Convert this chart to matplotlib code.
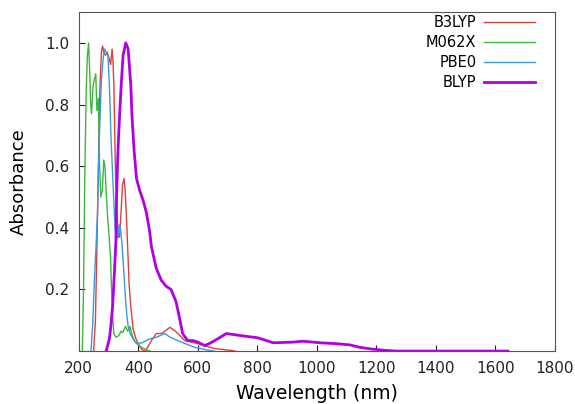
import numpy as np
import matplotlib.pyplot as plt

# Spectra (wavelength in nm, normalised absorbance)
b3lyp_x = [250, 256, 261, 266, 271, 276, 280, 284, 290, 296, 302, 307, 312, 315, 318, 321,
           324, 328, 333, 337, 342, 347, 352, 356, 360, 365, 369, 375, 383, 392, 402, 412,
           422, 430, 444, 461, 478, 490, 506, 523, 540, 556, 600, 657, 713, 725]
b3lyp_y = [0.0, 0.10, 0.34, 0.60, 0.85, 0.97, 0.99, 0.97, 0.96, 0.97, 0.95, 0.93, 0.98, 0.94, 0.86, 0.70,
           0.55, 0.45, 0.37, 0.37, 0.45, 0.54, 0.56, 0.52, 0.44, 0.32, 0.22, 0.14, 0.07, 0.04, 0.02, 0.005,
           0.0, 0.01, 0.034, 0.057, 0.057, 0.065, 0.077, 0.066, 0.05, 0.034, 0.024, 0.008, 0.002, 0.0]

m062x_x = [212, 216, 220, 225, 229, 233, 237, 240, 243, 248, 252, 257, 261, 266, 270, 274,
           279, 284, 288, 293, 298, 303, 307, 310, 314, 318, 325, 335, 342, 348, 357, 364,
           372, 380, 389, 400, 412, 425, 440]
m062x_y = [0.0, 0.2, 0.55, 0.85, 0.96, 1.0, 0.9, 0.8, 0.77, 0.86, 0.88, 0.9, 0.78, 0.82, 0.6, 0.5,
           0.52, 0.62, 0.6, 0.5, 0.42, 0.36, 0.3, 0.2, 0.11, 0.056, 0.045, 0.05, 0.065, 0.06, 0.08, 0.065,
           0.08, 0.05, 0.03, 0.02, 0.012, 0.005, 0.0]

pbe0_x = [241, 247, 253, 258, 263, 266, 270, 276, 282, 287, 292, 298, 303, 308, 313, 318,
          322, 326, 331, 336, 340, 345, 350, 355, 361, 366, 373, 385, 396, 410, 427, 440,
          461, 489, 507, 545, 590, 634, 655]
pbe0_y = [0.0, 0.09, 0.24, 0.34, 0.45, 0.59, 0.72, 0.88, 0.95, 0.98, 0.97, 0.96, 0.86, 0.70, 0.59, 0.48,
          0.40, 0.36, 0.37, 0.41, 0.40, 0.35, 0.28, 0.20, 0.12, 0.08, 0.057, 0.035, 0.024, 0.026, 0.034, 0.04,
          0.045, 0.057, 0.045, 0.029, 0.012, 0.003, 0.0]

blyp_x = [292, 303, 308, 314, 320, 325, 327, 330, 333, 338, 343, 349, 358, 366, 375, 379,
          386, 394, 405, 416, 427, 438, 444, 460, 477, 494, 510, 527, 538, 549, 566, 584,
          600, 623, 640, 657, 696, 746, 802, 853, 920, 954, 1010, 1066, 1111, 1145, 1189, 1234,
          1268, 1642]
blyp_y = [0.0, 0.04, 0.083, 0.15, 0.26, 0.36, 0.5, 0.6, 0.68, 0.78, 0.87, 0.96, 1.0, 0.98, 0.86, 0.76,
          0.65, 0.56, 0.52, 0.49, 0.45, 0.39, 0.34, 0.27, 0.23, 0.21, 0.20, 0.16, 0.11, 0.057, 0.034, 0.034,
          0.029, 0.018, 0.025, 0.034, 0.057, 0.05, 0.043, 0.027, 0.029, 0.032, 0.027, 0.024, 0.02, 0.012, 0.006, 0.002,
          0.0, 0.0]

fig = plt.figure(figsize=(5.75, 4.04), dpi=100)
ax = fig.add_axes([0.137, 0.131, 0.828, 0.839])

ax.plot(b3lyp_x, b3lyp_y, color='#e0403a', lw=1.0, label='B3LYP')
ax.plot(m062x_x, m062x_y, color='#3cb83c', lw=1.0, label='M062X')
ax.plot(pbe0_x, pbe0_y, color='#3a9ad9', lw=1.0, label='PBE0')
ax.plot(blyp_x, blyp_y, color='#b000e8', lw=2.0, label='BLYP')

ax.set_xlim(200, 1800)
ax.set_ylim(0, 1.1)
ax.set_xticks(range(200, 1801, 200))
ax.set_yticks([0.2, 0.4, 0.6, 0.8, 1.0])
ax.tick_params(direction='in', length=4, labelsize=11, colors='#222222', pad=7)
for s in ax.spines.values():
    s.set_color('#555555')
ax.set_xlabel('Wavelength (nm)', fontsize=13.5, labelpad=6)
ax.set_ylabel('Absorbance', fontsize=13, labelpad=12)

ax.legend(loc='upper right', bbox_to_anchor=(0.985, 1.03), frameon=False, markerfirst=False,
          fontsize=10.5, handlelength=3.5, handletextpad=0.5, labelspacing=0.35)

plt.savefig('out.png')
